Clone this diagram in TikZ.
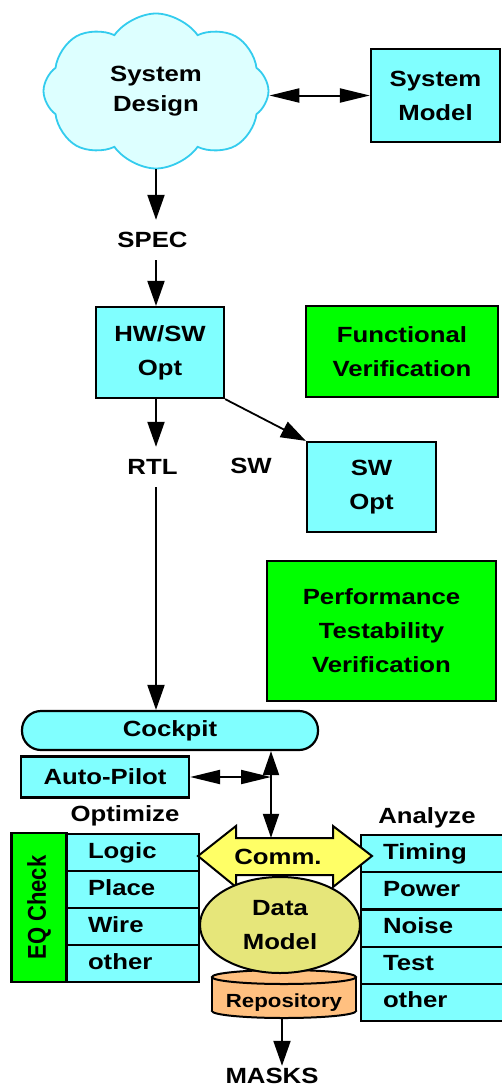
\documentclass[tikz,border=0pt]{standalone}
\usepackage{fontspec}
\setmainfont{Liberation Sans}[FakeStretch=1.17]
\newfontfamily\plainfont{Liberation Sans}
\usetikzlibrary{arrows.meta,shapes.symbols,shapes.geometric}
\definecolor{cyfill}{HTML}{80FFFF}
\definecolor{grfill}{HTML}{00FF00}
\definecolor{cloudfill}{HTML}{DDFFFF}
\definecolor{cloudline}{HTML}{33CCEE}
\definecolor{commfill}{HTML}{FFFF66}
\definecolor{dmfill}{HTML}{E6E67A}
\definecolor{repofill}{HTML}{FFC080}
\begin{document}
\begin{tikzpicture}[x=1pt,y=-1pt,
  every node/.style={font=\fontsize{22}{34}\selectfont\bfseries},
  cyanbox/.style={draw=black, line width=2.2pt, fill=cyfill, align=center, inner sep=0pt},
  greenbox/.style={draw=black, line width=2.2pt, fill=grfill, align=center, inner sep=0pt},
  optrow/.style={cyanbox, anchor=north west, outer sep=0pt, minimum width=132, minimum height=37, text width=90,
                 text height=15pt, text depth=4pt, inner xsep=21, align=left},
  anarow/.style={cyanbox, anchor=north west, outer sep=0pt, minimum width=145, minimum height=37.2, text width=101,
                 text height=15pt, text depth=4pt, inner xsep=22, align=left},
  lbl/.style={inner sep=0pt},
  arr/.style={line width=2pt, -{Triangle[length=25pt,width=17pt]}},
  dblh/.style={line width=2pt, {Triangle[length=30pt,width=14pt]}-{Triangle[length=30pt,width=14pt]}},
  dblv/.style={line width=2pt, {Triangle[length=24pt,width=16pt]}-{Triangle[length=24pt,width=16pt]}}
]
\useasboundingbox (0,0) rectangle (502,1087);
\fill[white] (0,0) rectangle (502,1087);

% top part
\node[cloud, cloud puffs=8, cloud puff arc=110, aspect=1.4, draw=cloudline, fill=cloudfill, line width=1.8pt,
      minimum width=225, minimum height=155, align=center, inner sep=0pt] (sd) at (156,91) {System\\[-4pt]Design};
\node[cyanbox, minimum width=129, minimum height=93] (sm) at (435.5,95.5) {System\\Model};
\draw[dblh] (sm.west) -- (sm.west -| sd.east);

\node[lbl, minimum height=40] (spec) at (152.5,240) {SPEC};
\node[cyanbox, minimum width=128, minimum height=91] (hw) at (160,352.5) {HW/SW\\Opt};
\node[greenbox, minimum width=192, minimum height=91] (fv) at (402,351.5) {Functional\\Verification};
\draw[arr] (sd.south) -- (sd.south |- spec.north);
\draw[arr] (spec.south -| sd.south) -- (hw.north -| sd.south);

\node[lbl, minimum height=40] (rtl) at (152.5,467) {RTL};
\node[lbl] (swl) at (251,466) {SW};
\node[cyanbox, minimum width=129, minimum height=90] (swo) at (371.5,487) {SW\\Opt};
\draw[arr] (hw.south -| sd.south) -- (rtl.north -| sd.south);
\draw[line width=1.8pt, -{Triangle[length=25pt,width=17pt]}] (hw.south east) -- (swo.north west);

\node[greenbox, minimum width=229, minimum height=140] (perf) at (381.5,631) {Performance\\Testability\\Verification};

% cockpit
\node[cyanbox, rounded corners=19pt, minimum width=296, minimum height=39] (cp) at (170,730.5) {Cockpit};
\draw[arr] (rtl.south -| sd.south) -- (cp.north -| sd.south);
\node[cyanbox, minimum width=168, minimum height=41] (ap) at (105,777) {Auto-Pilot};
\coordinate (vx) at (271,0);

\node[lbl] (optl) at (125,816) {Optimize};
\node[lbl] (anal) at (427,818) {Analyze};

% optimize list
\node[greenbox, rotate=90, minimum width=149, minimum height=55] (eq) at (39,907.5) {\scalebox{1}[1.17]{\plainfont EQ Check}};
\node[optrow] (logic) at (67,834) {Logic};
\node[optrow] (place) at (logic.south west) {Place};
\node[optrow] (wire) at (place.south west) {Wire};
\node[optrow] (oth1) at (wire.south west) {other};

% analyze list
\node[anarow] (timing) at (361,835) {Timing};
\node[anarow] (power) at (timing.south west) {Power};
\node[anarow] (noise) at (power.south west) {Noise};
\node[anarow] (test) at (noise.south west) {Test};
\node[anarow] (oth2) at (test.south west) {other};

% repository cylinder
\fill[repofill, draw=black, line width=2pt] (284,1011) ellipse (72 and 7);
\fill[repofill] (212,977) rectangle (356,1011);
\draw[line width=2pt] (212,977) -- (212,1011);
\draw[line width=2pt] (356,977) -- (356,1011);
\filldraw[fill=repofill, draw=black, line width=2pt] (284,977) ellipse (72 and 7);
\node[inner sep=0pt, minimum width=144, minimum height=48] (repo) at (282,994) {};
\node[lbl, font=\fontsize{19}{23}\selectfont\bfseries] (repot) at (284,1003) {Repository};

% comm arrow
\draw[fill=commfill, line width=2pt, line join=miter]
  (198,856) -- (236,826) -- (236,838) -- (333,838) -- (333,826) -- (372,856)
  -- (333,887) -- (333,875) -- (236,875) -- (236,887) -- cycle;
\node[inner sep=0pt, minimum width=97, minimum height=37] (comm) at (284.5,856.5) {};
\node[lbl] (commt) at (278,857) {Comm.};

% data model
\node[ellipse, draw=black, line width=2pt, fill=dmfill, minimum width=160, minimum height=96,
      inner sep=0pt, align=center] (dm) at (280,925) {Data\\Model};

\draw[dblv] (comm.north -| vx) -- (cp.south -| vx);
\draw[dblh] (ap.east) -- (ap.east -| vx);

\node[lbl, minimum height=20] (masks) at (272,1076) {MASKS};
\draw[arr] (repo.south) -- (repo.south |- masks.north);
\end{tikzpicture}
\end{document}
